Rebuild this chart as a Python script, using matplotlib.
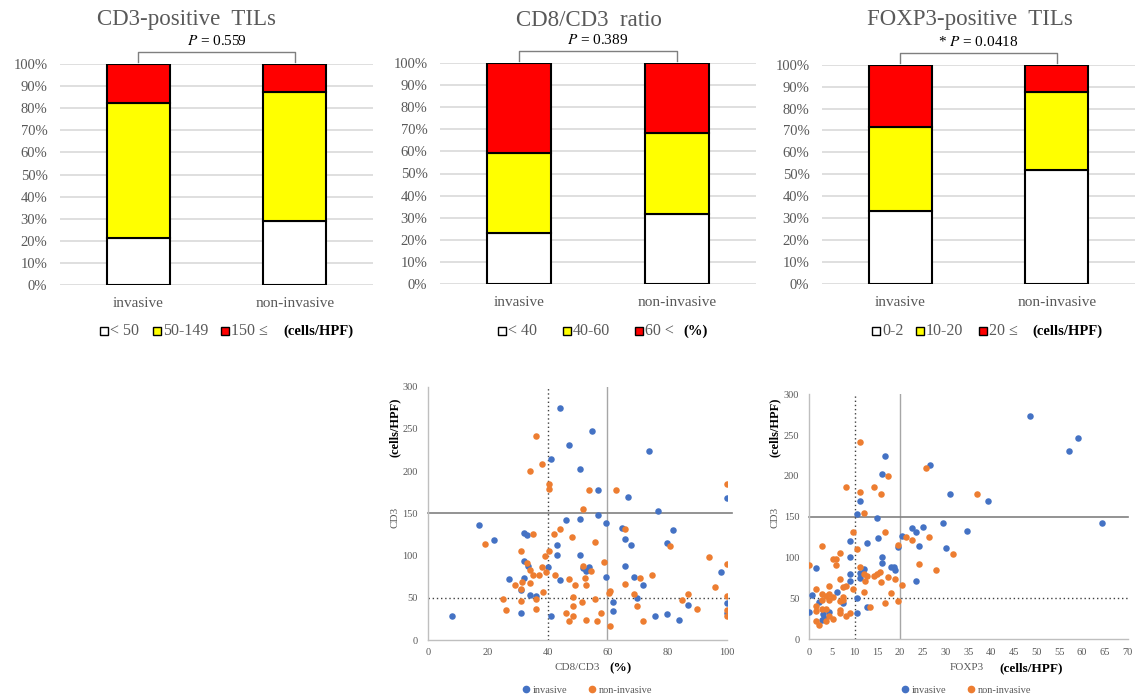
import matplotlib
matplotlib.use("Agg")
import matplotlib.pyplot as plt
from matplotlib.patches import Rectangle
from matplotlib.lines import Line2D

# ---------------- data ----------------
groups = ["invasive", "non-invasive"]

cd3_low = [21.3, 29.0]
cd3_mid = [61.0, 58.4]
cd3_high = [17.7, 12.6]

cd8_low = [23.1, 31.8]
cd8_mid = [36.4, 36.7]
cd8_high = [40.5, 31.5]

foxp3_low = [33.4, 52.0]
foxp3_mid = [38.3, 35.5]
foxp3_high = [28.3, 12.5]

pct_ticks = [0, 10, 20, 30, 40, 50, 60, 70, 80, 90, 100]

# scatter 1: CD8/CD3 (%) vs CD3 (cells/HPF)
s1_inv_x = [44, 55, 47, 74, 41, 51, 57, 67, 100, 77, 57, 46, 51, 59.5, 17, 65, 82, 32, 33, 66,
            22, 43, 68, 80, 43, 51, 32, 33.5, 40, 66, 52, 53, 54, 98, 27, 44, 32, 59.5, 69, 72,
            31, 34, 36, 62, 62, 70, 31, 8, 41, 76, 80, 84, 87, 100, 100]
s1_inv_y = [275, 247, 231, 224, 214, 203, 178, 169, 168, 153, 148, 142, 143, 138, 136, 133, 130, 127, 124, 120,
            118, 112, 112, 115, 101, 101, 93, 88, 87, 88, 85, 82, 86, 80, 72, 71, 74, 75, 75, 65,
            59, 53, 52, 45, 34, 50, 32, 29, 29, 28, 31, 24, 41, 44, 32]
s1_non_x = [36, 38, 34, 40.5, 40.5, 54, 63, 100, 52, 35, 44, 42, 48, 66, 19, 56, 81, 31, 40.5, 39,
            94, 59, 100, 33, 52, 38, 34, 54.5, 39.5, 37, 35, 42.5, 75, 71, 52.5, 47, 31.5, 34, 66, 53,
            29, 49, 96, 31, 61, 38.5, 60.5, 69, 87, 100, 25, 36, 48.5, 56, 31, 51.5, 85, 48.5, 70, 36,
            90, 26, 100, 46, 58, 48.5, 100, 47, 53, 56.5, 72, 61]
s1_non_y = [242, 209, 200, 185, 179, 178, 178, 185, 155, 125, 131, 125, 122, 131, 114, 116, 111, 106, 105, 99,
            98, 92, 90, 91, 88, 86, 83, 82, 80, 77, 77, 77, 77, 74, 74, 72, 69, 67, 66, 65,
            65, 65, 63, 60, 58, 57, 56, 54, 54, 52, 48, 48, 51, 48, 46, 45, 47, 40, 40, 37,
            37, 35, 35.5, 32, 32, 28, 28, 23, 24, 22.5, 22, 17]

# scatter 2: FOXP3 (cells/HPF) vs CD3 (cells/HPF)
s2_inv_x = [48.5, 59, 57, 64.3, 39.4, 31, 26.5, 16.6, 16, 11.2, 10.5, 15, 29.4, 34.8, 25, 22.6, 23.4, 20.4, 15.1, 12.8,
            9, 24.2, 30.2, 19.6, 9, 16, 16, 1.5, 18, 18.7, 18.8, 12, 9, 11.2, 11.3, 9, 23.4, 6.1, 0.6, 2.1,
            7.4, 10.5, 12.8, 4.5, 0, 3.1, 3.4, 2.9, 10.5]
s2_inv_y = [274, 247, 231, 143, 169, 178, 213, 224, 203, 169, 153, 149, 143, 133, 138, 136, 131, 127, 124, 118,
            120, 114, 112, 113, 101, 101, 93, 87, 88, 88, 84.5, 86, 80, 81, 75, 72, 71, 58, 54, 46,
            44, 51, 40, 34, 34, 31, 26.5, 24, 32]
s2_non_x = [11.2, 25.7, 17.4, 8.2, 14.3, 11.3, 15.9, 37, 12, 9.7, 16.7, 10.5, 2.9, 21.2, 22.6, 26.4, 19.6, 31.7, 6.7, 5.2,
            6, 6, 0, 11.2, 24.2, 28, 12, 12.7, 12.2, 15, 15.7, 14.3, 17.4, 18.8, 15.9, 6.7, 4.5, 7.4, 8.2, 9.7,
            20.4, 12.1, 18, 1.5, 2.9, 3.7, 4.5, 5.2, 7.4, 7.4, 2.9, 6.7, 4.5, 16.7, 19.6, 13.5, 1.5, 2.9, 3.8, 6.7,
            6.7, 1.5, 9, 4.5, 8.2, 5.2, 1.5, 3.8, 2.3]
s2_non_y = [242, 210, 200, 186, 186, 180, 178, 178, 155, 131, 131, 111, 114, 125, 122, 125, 116, 105, 106, 98,
            98, 91, 91, 88, 92, 85, 80, 77, 71, 80, 83, 77, 76, 74, 70, 73.5, 65, 64.5, 65, 62,
            67, 58, 57, 61, 55, 53.5, 55.5, 52, 52, 48, 48, 46.5, 48, 45, 46.5, 40, 40.4, 37.5, 36.7, 36.3,
            32.6, 34.3, 32.6, 28.6, 28.6, 24.5, 23, 23, 17.6]

s1_xticks = [0, 20, 40, 60, 80, 100]
s2_xticks = [0, 5, 10, 15, 20, 25, 30, 35, 40, 45, 50, 55, 60, 65, 70]
s_yticks = [0, 50, 100, 150, 200, 250, 300]

# ---------------- style ----------------
W, H = 1135, 700
SERIF = ["Liberation Serif", "DejaVu Serif"]
plt.rcParams["font.family"] = SERIF
plt.rcParams["mathtext.fontset"] = "stix"
GRAY_TXT = "#595959"
GRID = "#d9d9d9"
WHITE, YELLOW, RED = "#ffffff", "#ffff00", "#ff0000"
BLUE, ORANGE = "#4472c4", "#ed7d31"

fig = plt.figure(figsize=(W / 100, H / 100), dpi=100)


def px_axes(left, top, right, bottom):
    return fig.add_axes([left / W, 1 - bottom / H, (right - left) / W, (bottom - top) / H])


def bar_chart(box, low, mid, high, title, title_x, ptext, legend_items, unit, unit_x):
    ax = px_axes(*box)
    x = [0, 1]
    kw = dict(width=0.40, edgecolor="black", linewidth=1.5, zorder=3)
    ax.bar(x, low, color=WHITE, **kw)
    ax.bar(x, mid, bottom=low, color=YELLOW, **kw)
    ax.bar(x, high, bottom=[a + b for a, b in zip(low, mid)], color=RED, **kw)
    ax.set_xlim(-0.5, 1.5)
    ax.set_ylim(0, 100)
    ax.set_yticks(pct_ticks)
    ax.set_yticklabels([f"{t}%" for t in pct_ticks])
    ax.yaxis.grid(True, color=GRID, linewidth=1.2, zorder=0)
    ax.set_xticks(x)
    ax.set_xticklabels(groups)
    for s in ax.spines.values():
        s.set_visible(False)
    ax.tick_params(length=0, labelcolor=GRAY_TXT)
    ax.tick_params(axis="y", pad=9, labelsize=10.5)
    ax.tick_params(axis="x", pad=9, labelsize=11)
    # bracket
    ax.plot([0, 0, 1, 1], [101, 105.5, 105.5, 101], color="#7f7f7f", lw=1.0,
            clip_on=False, zorder=4)
    ax.text(0.5, 107.3, ptext, ha="center", va="bottom", fontsize=11, color="black",
            clip_on=False)
    fig.text(title_x / W, 1 - 20 / H, title, ha="center", va="center",
             fontsize=16.5, color=GRAY_TXT)
    # legend
    ly = 1 - 331 / H
    for (xp, col, lab) in legend_items:
        fig.patches.append(Rectangle((xp / W, ly - 4 / H), 8 / W, 8 / H, facecolor=col,
                                     edgecolor="black", linewidth=1.0,
                                     transform=fig.transFigure, figure=fig))
        fig.text((xp + 10) / W, ly, lab, ha="left", va="center", fontsize=11.5, color=GRAY_TXT)
    fig.text(unit_x / W, ly, unit, ha="left", va="center", fontsize=10.5,
             fontweight="bold", color="black")
    return ax


bar_chart((60, 64.3, 373, 284.7), cd3_low, cd3_mid, cd3_high,
          "CD3-positive  TILs", 187, "$\\mathit{P}$ = 0.559",
          [(100, WHITE, "< 50"), (153, YELLOW, "50-149"), (221, RED, "150 \u2264")],
          "(cells/HPF)", 283)
bar_chart((440, 63.3, 756, 283.7), cd8_low, cd8_mid, cd8_high,
          "CD8/CD3  ratio", 589, "$\\mathit{P}$ = 0.389",
          [(498, WHITE, "< 40"), (563, YELLOW, "40-60"), (635, RED, "60 <")],
          "(%)", 683)
bar_chart((822, 64.7, 1135, 284), foxp3_low, foxp3_mid, foxp3_high,
          "FOXP3-positive  TILs", 970, "* $\\mathit{P}$ = 0.0418",
          [(872, WHITE, "0-2"), (916, YELLOW, "10-20"), (979, RED, "20 \u2264")],
          "(cells/HPF)", 1032)


def scatter_chart(box, xmax, xticks, inv_x, inv_y, non_x, non_y, vdot, vsolid, ext,
                  ylab_x, xlab, xlab_c, unit, unit_c, leg_c):
    ax = px_axes(*box)
    ax.scatter(inv_x, inv_y, s=22, color=BLUE, linewidths=0, zorder=3, label="invasive")
    ax.scatter(non_x, non_y, s=22, color=ORANGE, linewidths=0, zorder=3, label="non-invasive")
    ax.set_xlim(0, xmax)
    ax.set_ylim(0, 300)
    ax.set_xticks(xticks)
    ax.set_yticks(s_yticks)
    for k in ("top", "right"):
        ax.spines[k].set_visible(False)
    for k in ("left", "bottom"):
        ax.spines[k].set_color("#bfbfbf")
        ax.spines[k].set_linewidth(1.0)
    ax.tick_params(length=0, labelcolor=GRAY_TXT, labelsize=7.5)
    ax.tick_params(axis="y", pad=7)
    ax.tick_params(axis="x", pad=6)
    # reference lines
    ax.plot([vsolid, vsolid], [0, 300], color="#a6a6a6", lw=1.0, zorder=2)
    ax.plot([0, xmax * ext], [150, 150], color="#808080", lw=1.2, zorder=2, clip_on=False)
    ax.plot([vdot, vdot], [0, 300], color="#404040", lw=1.0, ls=(0, (1, 2)), zorder=2,
            clip_on=False)
    ax.plot([0, xmax * ext], [50, 50], color="#404040", lw=1.0, ls=(0, (1, 2)), zorder=2,
            clip_on=False)
    # labels
    fig.text(ylab_x / W, 1 - 517 / H, "CD3", rotation=90, ha="center", va="center",
             fontsize=8, color=GRAY_TXT)
    fig.text(ylab_x / W, 1 - 427 / H, "(cells/HPF)", rotation=90, ha="center", va="center",
             fontsize=9, fontweight="bold", color="black")
    fig.text(xlab_c / W, 1 - 668 / H, xlab, ha="center", va="center", fontsize=8,
             color=GRAY_TXT)
    fig.text(unit_c / W, 1 - 668 / H, unit, ha="center", va="center", fontsize=9.5,
             fontweight="bold", color="black")
    handles = [Line2D([], [], marker="o", ls="", color=BLUE, markersize=4.5, label="invasive"),
               Line2D([], [], marker="o", ls="", color=ORANGE, markersize=4.5, label="non-invasive")]
    leg = ax.legend(handles=handles, loc="center", bbox_to_anchor=(leg_c / W, 1 - 690 / H),
                    bbox_transform=fig.transFigure, ncol=2, frameon=False, fontsize=7.5,
                    handletextpad=0.0, columnspacing=1.8, handlelength=1.2)
    for t in leg.get_texts():
        t.set_color(GRAY_TXT)
    return ax


scatter_chart((427.7, 386.7, 727.3, 640), 100, s1_xticks, s1_inv_x, s1_inv_y, s1_non_x, s1_non_y,
              40, 60, 1.015, 395, "CD8/CD3", 577, "(%)", 621, 586)
scatter_chart((809, 394.3, 1127.7, 639.3), 70, s2_xticks, s2_inv_x, s2_inv_y, s2_non_x, s2_non_y,
              10, 20, 1.0, 775, "FOXP3", 967, "(cells/HPF)", 1031, 965)

fig.savefig("out.png", dpi=100, facecolor="white")
